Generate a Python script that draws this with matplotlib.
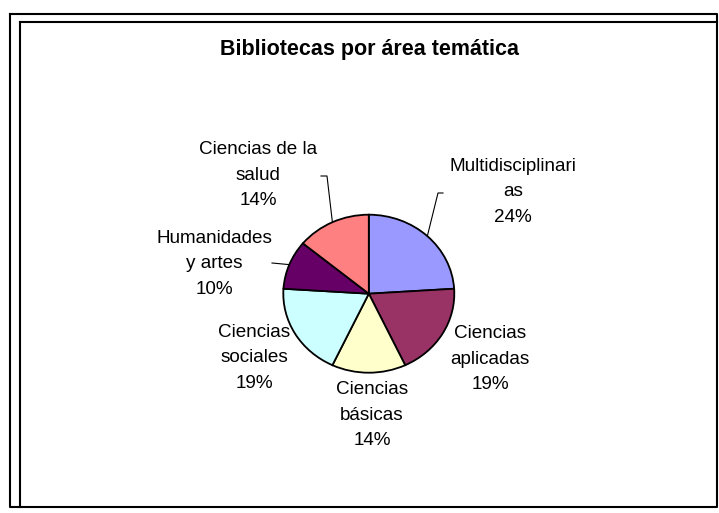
import matplotlib.pyplot as plt
from matplotlib.lines import Line2D
import numpy as np

plt.rcParams['font.family'] = ['Liberation Sans', 'DejaVu Sans']

# data
categories = ["Multidisciplinari\nas", "Ciencias\naplicadas", "Ciencias\nbásicas",
              "Ciencias\nsociales", "Humanidades\ny artes", "Ciencias de la\nsalud"]
values = [24, 19, 14, 19, 10, 14]
colors = ["#9999FF", "#993366", "#FFFFCC", "#CCFFFF", "#660066", "#FF8080"]
title = "Bibliotecas por área temática"

W, H = 719, 513
fig = plt.figure(figsize=(W / 100, H / 100), dpi=100)
fig.patch.set_facecolor("white")

# pie geometry in pixels (slightly elliptical like the original)
cx, cy, rx, ry = 368.8, 293.7, 85.5, 79.0

ax = fig.add_axes([(cx - rx) / W, 1 - (cy + ry) / H, 2 * rx / W, 2 * ry / H])
wedges, _ = ax.pie(values, colors=colors, startangle=90, counterclock=False,
                   wedgeprops=dict(edgecolor="black", linewidth=1.3))
ax.set_aspect("auto")
ax.set_xlim(-1, 1)
ax.set_ylim(-1, 1)
ax.axis("off")

# overlay in pixel coords for labels and frame
ov = fig.add_axes([0, 0, 1, 1], zorder=5)
ov.set_xlim(0, W)
ov.set_ylim(H, 0)
ov.axis("off")
ov.patch.set_alpha(0)

# chart frame (double border)
lw = 1.5
ov.add_line(Line2D([9.5, 717, 717, 9.5, 9.5], [13.5, 13.5, 507, 507, 13.5], color="black", lw=lw))
ov.add_line(Line2D([19.5, 19.5], [507, 22], color="black", lw=lw))
ov.add_line(Line2D([19.5, 717], [22, 22], color="black", lw=lw))

ov.text(370, 49, title, ha="center", va="center", fontsize=15.5, fontweight="bold")

# label centres (pixels) and leader elbows
label_pos = [(513, 192), (490, 359), (372, 415), (254, 358), (214, 264), (258, 175)]
leaders = {0: [(443, 193), (438, 193)], 4: [(272, 263)], 5: [(321, 176), (327, 176)]}

total = sum(values)
for i, (w, name) in enumerate(zip(wedges, categories)):
    pct = round(100 * values[i] / total)
    x, y = label_pos[i]
    ov.text(x, y, f"{name}\n{pct}%", ha="center", va="center", fontsize=13.6,
            linespacing=1.63)
    if i in leaders:
        mid = np.deg2rad((w.theta1 + w.theta2) / 2)
        ex, ey = cx + rx * np.cos(mid), cy - ry * np.sin(mid)
        pts = leaders[i] + [(ex, ey)]
        ov.add_line(Line2D([p[0] for p in pts], [p[1] for p in pts], color="black", lw=0.8))

fig.savefig("out.png", dpi=100)
